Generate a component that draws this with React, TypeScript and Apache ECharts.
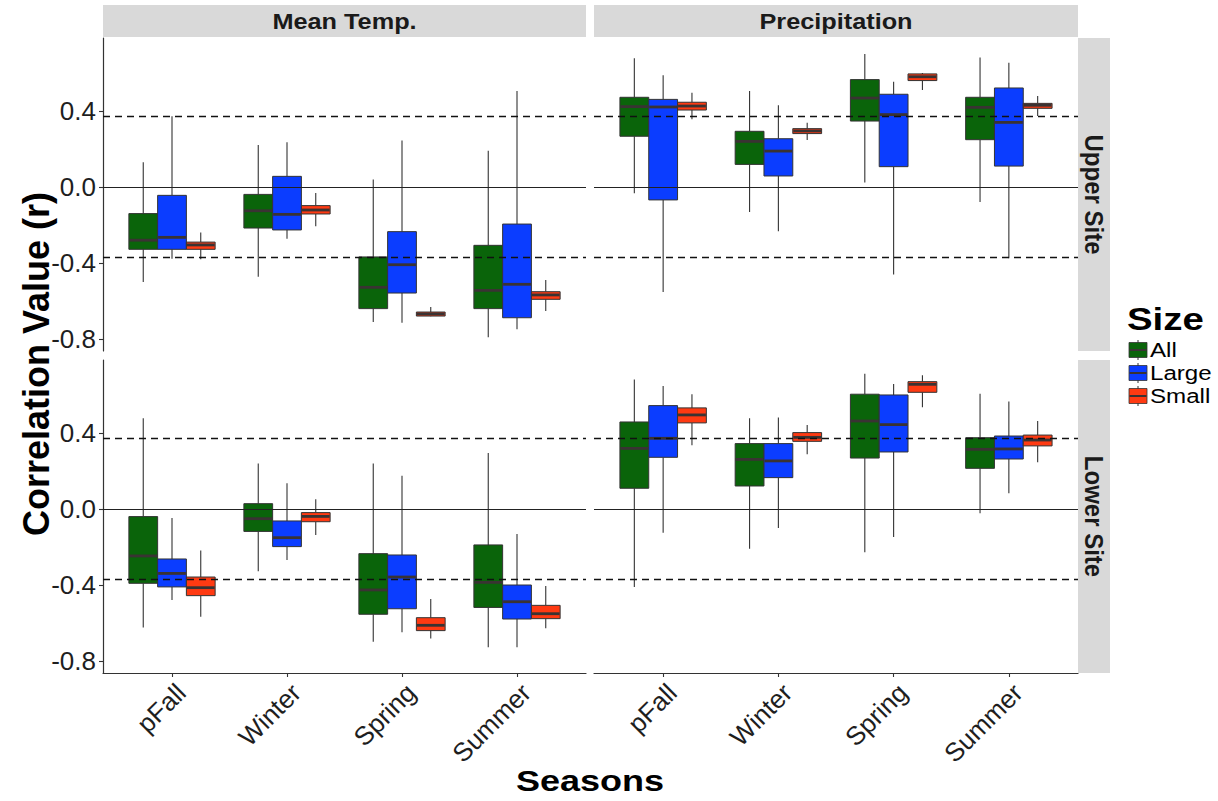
import React, { useEffect, useRef } from "react";
import * as echarts from "echarts";

const seasons = ["pFall", "Winter", "Spring", "Summer"];
const sizes = ["All", "Large", "Small"];
const sizeColors = ["#0A640A", "#0B3DFF", "#FF3A12"];
const variables = ["Mean Temp.", "Precipitation"];
const sites = ["Upper Site", "Lower Site"];
const yTicks = [-0.8, -0.4, 0, 0.4];
const xTicks = [1, 2, 3, 4];
const criticalR = 0.374;
const yMin = -0.863;
const yMax = 0.784;

// each row: [min, q1, median, q3, max] for pFall, Winter, Spring, Summer
const upperTempAll = [[-0.5, -0.328, -0.28, -0.14, 0.13], [-0.472, -0.216, -0.125, -0.039, 0.221], [-0.71, -0.64, -0.528, -0.368, 0.04], [-0.791, -0.64, -0.544, -0.307, 0.191]];
const upperTempLarge = [[-0.377, -0.328, -0.265, -0.044, 0.372], [-0.272, -0.226, -0.144, 0.056, 0.235], [-0.714, -0.558, -0.409, -0.235, 0.244], [-0.749, -0.688, -0.512, -0.195, 0.505]];
const upperTempSmall = [[-0.38, -0.328, -0.305, -0.29, -0.24], [-0.207, -0.142, -0.121, -0.098, -0.032], [-0.68, -0.679, -0.668, -0.658, -0.632], [-0.653, -0.591, -0.568, -0.551, -0.489]];

const upperPrecipAll = [[-0.033, 0.267, 0.423, 0.472, 0.677], [-0.132, 0.119, 0.24, 0.293, 0.505], [0.023, 0.347, 0.468, 0.565, 0.7], [-0.079, 0.249, 0.419, 0.472, 0.682]];
const upperPrecipLarge = [[-0.553, -0.068, 0.421, 0.461, 0.588], [-0.233, 0.058, 0.189, 0.254, 0.43], [-0.46, 0.107, 0.381, 0.488, 0.554], [-0.375, 0.11, 0.34, 0.521, 0.654]];
const upperPrecipSmall = [[0.356, 0.405, 0.426, 0.446, 0.496], [0.247, 0.281, 0.295, 0.307, 0.338], [0.51, 0.56, 0.58, 0.595, 0.6], [0.374, 0.414, 0.43, 0.44, 0.479]];

const lowerTempAll = [[-0.623, -0.391, -0.247, -0.04, 0.477], [-0.328, -0.118, -0.051, 0.028, 0.239], [-0.698, -0.554, -0.426, -0.235, 0.239], [-0.728, -0.518, -0.386, -0.189, 0.295]];
const lowerTempLarge = [[-0.479, -0.41, -0.339, -0.263, -0.047], [-0.268, -0.198, -0.151, -0.063, 0.135], [-0.649, -0.525, -0.358, -0.242, 0.175], [-0.728, -0.579, -0.488, -0.4, -0.132]];
const lowerTempSmall = [[-0.567, -0.456, -0.414, -0.358, -0.218], [-0.137, -0.067, -0.039, -0.019, 0.051], [-0.682, -0.64, -0.612, -0.572, -0.474], [-0.628, -0.577, -0.551, -0.507, -0.405]];

const lowerPrecipAll = [[-0.41, 0.109, 0.319, 0.458, 0.682], [-0.209, 0.121, 0.261, 0.344, 0.477], [-0.228, 0.268, 0.463, 0.604, 0.711], [-0.023, 0.214, 0.314, 0.375, 0.607]];
const lowerPrecipLarge = [[-0.125, 0.272, 0.372, 0.544, 0.647], [-0.1, 0.165, 0.253, 0.344, 0.481], [-0.147, 0.3, 0.444, 0.6, 0.658], [0.083, 0.263, 0.316, 0.384, 0.565]];
const lowerPrecipSmall = [[0.335, 0.453, 0.495, 0.532, 0.604], [0.288, 0.356, 0.377, 0.402, 0.442], [0.535, 0.614, 0.656, 0.67, 0.704], [0.246, 0.332, 0.363, 0.389, 0.463]];

const panelData = [
  [upperTempAll, upperTempLarge, upperTempSmall],
  [upperPrecipAll, upperPrecipLarge, upperPrecipSmall],
  [lowerTempAll, lowerTempLarge, lowerTempSmall],
  [lowerPrecipAll, lowerPrecipLarge, lowerPrecipSmall],
];

const FONT = "'Liberation Sans', Arial, Helvetica, sans-serif";
const INK = "#333333";

const gridRects = [
  { left: 103, top: 38, width: 483, height: 313 },
  { left: 594, top: 38, width: 484, height: 313 },
  { left: 103, top: 360, width: 483, height: 313 },
  { left: 594, top: 360, width: 484, height: 313 },
];

const DODGE = 0.25;

function buildOption() {
  const grid = gridRects.map((g) => ({ ...g, containLabel: false }));
  const xAxis = gridRects.map((_, i) => {
    const bottom = i >= 2;
    return {
      type: "value",
      gridIndex: i,
      min: 0.4,
      max: 4.6,
      show: bottom,
      axisLine: { show: bottom, onZero: false, lineStyle: { color: INK, width: 1.2 } },
      axisTick: { show: bottom, length: 4, customValues: xTicks, lineStyle: { color: INK, width: 1.1 } },
      axisLabel: {
        show: bottom,
        customValues: xTicks,
        formatter: (v: number) => seasons[Math.round(v) - 1] ?? "",
        rotate: 45,
        align: "right",
        verticalAlign: "top",
        margin: 6,
        fontSize: 26,
        fontFamily: FONT,
        color: "#1e1e1e",
      },
      splitLine: { show: false },
    };
  });
  const yAxis = gridRects.map((_, i) => {
    const left = i % 2 === 0;
    return {
      type: "value",
      gridIndex: i,
      min: yMin,
      max: yMax,
      show: left,
      axisLine: { show: left, onZero: false, lineStyle: { color: INK, width: 1.2 } },
      axisTick: { show: left, length: 4, customValues: yTicks, lineStyle: { color: INK, width: 1.1 } },
      axisLabel: {
        show: left,
        customValues: yTicks,
        formatter: (v: number) => v.toFixed(1),
        margin: 7,
        fontSize: 26,
        fontFamily: FONT,
        color: "#1e1e1e",
      },
      splitLine: { show: false },
    };
  });

  const series: any[] = [];
  panelData.forEach((groups, p) => {
    groups.forEach((rows, g) => {
      const offset = (g - 1) * DODGE;
      const color = sizeColors[g];
      series.push({
        type: "custom",
        name: sizes[g],
        xAxisIndex: p,
        yAxisIndex: p,
        z: 2,
        silent: true,
        data: rows.map((r, k) => [k + 1, ...r]),
        encode: { x: 0, y: [1, 2, 3, 4, 5] },
        renderItem: (params: any, api: any) => {
          const x = api.value(0) + offset;
          const w = api.size([DODGE, 0])[0];
          const pMin = api.coord([x, api.value(1)]);
          const pQ1 = api.coord([x, api.value(2)]);
          const pMed = api.coord([x, api.value(3)]);
          const pQ3 = api.coord([x, api.value(4)]);
          const pMax = api.coord([x, api.value(5)]);
          const cx = pMin[0];
          const lineStyle = { stroke: INK, lineWidth: 1.1 };
          return {
            type: "group",
            children: [
              { type: "line", shape: { x1: cx, y1: pMax[1], x2: cx, y2: pQ3[1] }, style: lineStyle },
              { type: "line", shape: { x1: cx, y1: pQ1[1], x2: cx, y2: pMin[1] }, style: lineStyle },
              {
                type: "rect",
                shape: { x: cx - w / 2, y: pQ3[1], width: w, height: Math.max(pQ1[1] - pQ3[1], 1) },
                style: { fill: color, stroke: INK, lineWidth: 1 },
              },
              {
                type: "line",
                shape: { x1: cx - w / 2 + 0.5, y1: pMed[1], x2: cx + w / 2 - 0.5, y2: pMed[1] },
                style: { stroke: "#3a3333", lineWidth: 2.8 },
              },
            ],
          };
        },
      });
    });
    series.push({
      type: "line",
      name: "ref" + p,
      xAxisIndex: p,
      yAxisIndex: p,
      data: [],
      z: 10,
      silent: true,
      markLine: {
        silent: true,
        symbol: ["none", "none"],
        label: { show: false },
        animation: false,
        data: [
          { yAxis: 0, lineStyle: { type: "solid", color: "#222", width: 1.2 } },
          { yAxis: criticalR, lineStyle: { type: [7, 5], color: "#111", width: 1.3 } },
          { yAxis: -criticalR, lineStyle: { type: [7, 5], color: "#111", width: 1.3 } },
        ],
      },
    });
  });

  const graphic: any[] = [];
  // top strips
  variables.forEach((v, i) => {
    const g = gridRects[i];
    graphic.push({ type: "rect", shape: { x: g.left, y: 5, width: g.width, height: 32 }, style: { fill: "#D9D9D9" }, z: 1 });
    graphic.push({
      type: "text",
      x: g.left + g.width / 2,
      y: 21.5,
      scaleX: 1.15,
      style: { text: v, font: `bold 22px ${FONT}`, fill: "#1a1a1a", align: "center", verticalAlign: "middle" },
      z: 2,
    });
  });
  // right strips
  sites.forEach((s, i) => {
    const g = gridRects[i * 2 + 1];
    graphic.push({ type: "rect", shape: { x: 1078, y: g.top, width: 32, height: g.height }, style: { fill: "#D9D9D9" }, z: 1 });
    graphic.push({
      type: "text",
      x: 1094,
      y: g.top + g.height / 2,
      rotation: -Math.PI / 2,
      scaleY: 1.1,
      style: { text: s, font: `bold 24px ${FONT}`, fill: "#1a1a1a", align: "center", verticalAlign: "middle" },
      z: 2,
    });
  });
  // axis titles
  graphic.push({
    type: "text",
    x: 590,
    y: 781,
    scaleX: 1.2,
    style: { text: "Seasons", font: `bold 30px ${FONT}`, fill: "#000", align: "center", verticalAlign: "middle" },
  });
  graphic.push({
    type: "text",
    x: 36,
    y: 364,
    rotation: Math.PI / 2,
    scaleY: 1.05,
    style: { text: "Correlation Value (r)", font: `bold 36px ${FONT}`, fill: "#000", align: "center", verticalAlign: "middle" },
  });
  // legend
  graphic.push({
    type: "text",
    x: 1127,
    y: 319,
    scaleX: 1.2,
    style: { text: "Size", font: `bold 32px ${FONT}`, fill: "#000", align: "left", verticalAlign: "middle" },
  });
  sizes.forEach((s, i) => {
    const cy = 350 + i * 23;
    graphic.push({ type: "line", shape: { x1: 1138, y1: cy - 10, x2: 1138, y2: cy + 10 }, style: { stroke: INK, lineWidth: 1 } });
    graphic.push({ type: "rect", shape: { x: 1129, y: cy - 7.5, width: 18, height: 15 }, style: { fill: sizeColors[i], stroke: INK, lineWidth: 0.8 } });
    graphic.push({ type: "line", shape: { x1: 1129.5, y1: cy, x2: 1146.5, y2: cy }, style: { stroke: "#3a3333", lineWidth: 2 } });
    graphic.push({
      type: "text",
      x: 1150,
      y: cy,
      scaleX: 1.15,
      style: { text: s, font: `21px ${FONT}`, fill: "#000", align: "left", verticalAlign: "middle" },
    });
  });

  return {
    animation: false,
    backgroundColor: "#ffffff",
    grid,
    xAxis,
    yAxis,
    series,
    graphic,
  };
}

export default function App() {
  const ref = useRef<HTMLDivElement>(null);
  useEffect(() => {
    document.body.style.margin = "0";
    if (!ref.current) return;
    const chart = echarts.init(ref.current, null, { renderer: "svg" });
    chart.setOption(buildOption() as any);
    return () => chart.dispose();
  }, []);
  return <div ref={ref} style={{ width: 1218, height: 801, position: "absolute", left: 0, top: 0 }} />;
}
